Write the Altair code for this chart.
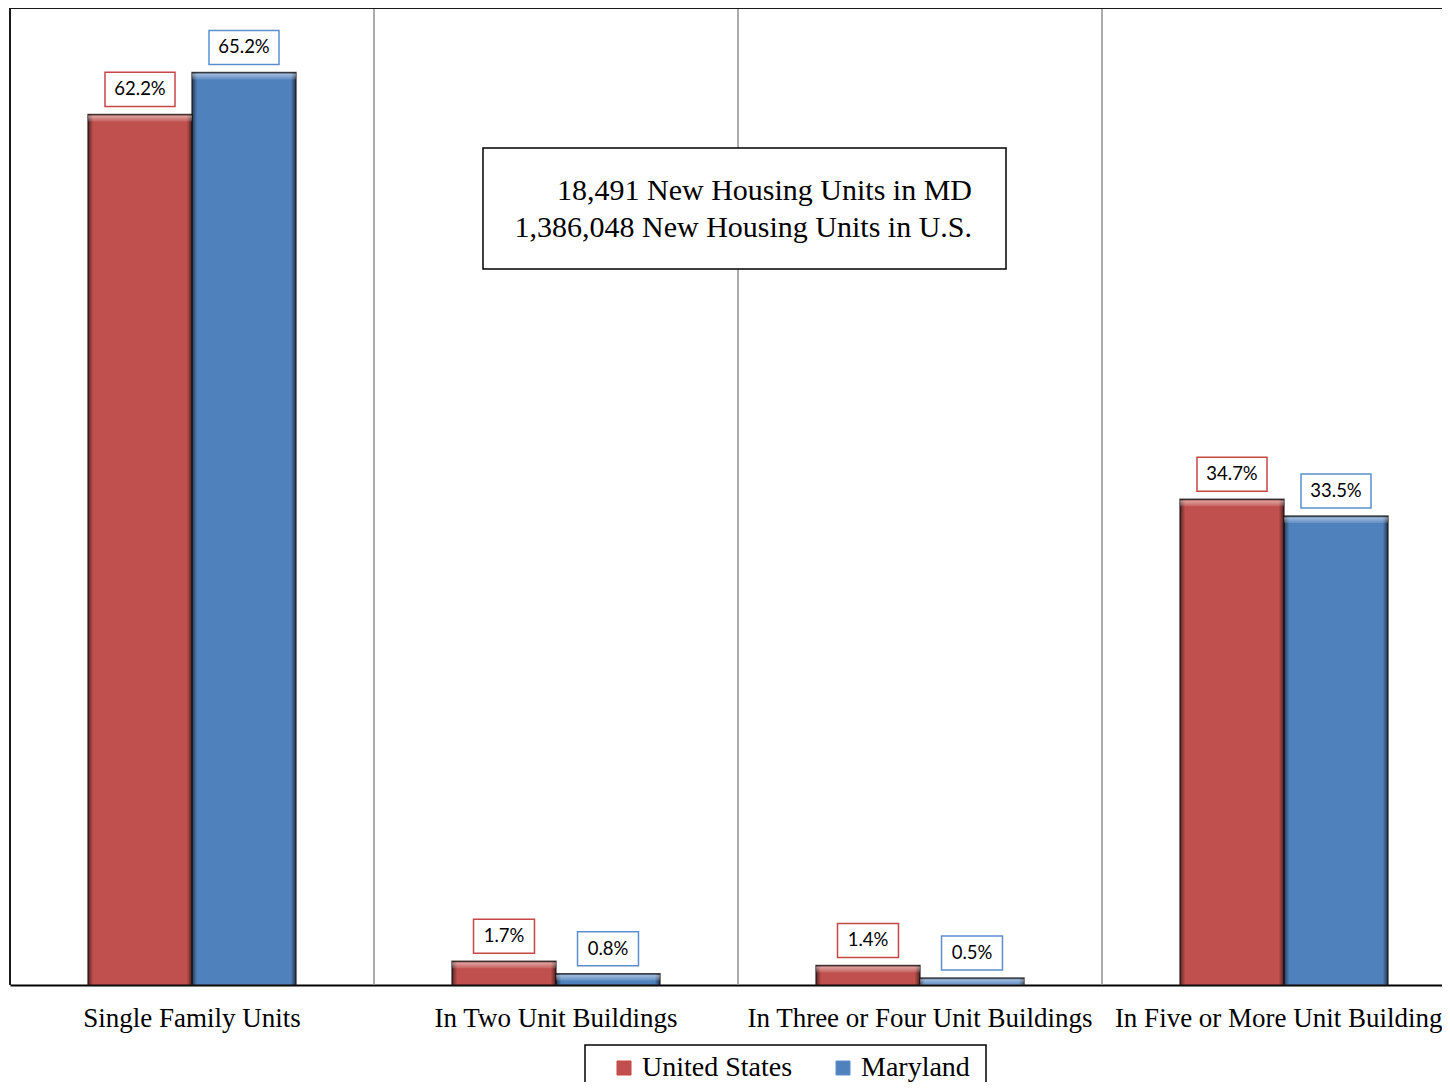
import altair as alt
import pandas as pd

categories = ["Single Family Units", "In Two Unit Buildings",
              "In Three or Four Unit Buildings", "In Five or More Unit Buildings"]
series = ["United States", "Maryland"]
us_values = [62.2, 1.7, 1.4, 34.7]
md_values = [65.2, 0.8, 0.5, 33.5]
note_lines = ["18,491 New Housing Units in MD", "1,386,048 New Housing Units in U.S."]

rows = []
for c, u, m in zip(categories, us_values, md_values):
    rows.append({"cat": c, "series": series[0], "value": u})
    rows.append({"cat": c, "series": series[1], "value": m})
df = pd.DataFrame(rows)
grid_df = pd.DataFrame({"cat": categories[1:]})
note_df = pd.DataFrame({"t": ["\n".join(note_lines)]})
one_df = pd.DataFrame({"k": [0]})

RED = "#C0504D"
BLUE = "#4F81BD"
SERIF = "Liberation Serif"
PLOT_W = 1432
PLOT_H = 977

# the original plot area runs past the right edge of the picture
x_scale = alt.Scale(domain=categories, paddingInner=0, paddingOuter=0, range=[0, 1456])
x_axis = alt.Axis(title=None, labelFont=SERIF, labelFontSize=27, labelColor="black",
                  ticks=False, labelPadding=20, domainColor="black", domainWidth=2,
                  labelAngle=0, labelLimit=500, grid=False)
X = alt.X("cat:N", scale=x_scale, axis=x_axis)
XO = alt.XOffset("series:N", scale=alt.Scale(domain=series, paddingInner=0, paddingOuter=0.75))
Y = alt.Y("value:Q", scale=alt.Scale(domain=[0, 69.8], nice=False, zero=True), axis=None)

base = alt.Chart(df)

grid = alt.Chart(grid_df).mark_rule(color="#8f8f8f", strokeWidth=1.5).encode(
    x=alt.X("cat:N", scale=x_scale, bandPosition=0, axis=x_axis)
)

frame_top = alt.Chart(one_df).mark_rule(color="#1a1a1a", strokeWidth=2).encode(
    x=alt.value(0), x2=alt.value(1456), y=alt.value(0)
)
frame_left = alt.Chart(one_df).mark_rule(color="#1a1a1a", strokeWidth=2).encode(
    x=alt.value(0), y=alt.value(0), y2=alt.value(PLOT_H)
)

bars = base.mark_bar().encode(
    x=X, xOffset=XO, y=Y,
    color=alt.Color("series:N", scale=alt.Scale(domain=series, range=[RED, BLUE]),
                    legend=alt.Legend(title=None, orient="none", legendX=600, legendY=1046,
                                      direction="horizontal", symbolType="square",
                                      symbolSize=196, labelFont=SERIF, labelFontSize=28,
                                      labelColor="black", labelOffset=4, columnPadding=36,
                                      padding=0, labelLimit=400,
                                      symbolStrokeColor="#3a3a3a", symbolStrokeWidth=1))
)

edges = base.mark_bar(
    fill=alt.LinearGradient(gradient="linear", x1=0, x2=1, y1=0, y2=0, stops=[
        alt.GradientStop(offset=0, color="rgba(0,0,0,0.55)"),
        alt.GradientStop(offset=0.05, color="rgba(0,0,0,0)"),
        alt.GradientStop(offset=0.95, color="rgba(0,0,0,0)"),
        alt.GradientStop(offset=1, color="rgba(0,0,0,0.6)"),
    ]),
    stroke="rgba(30,20,20,0.75)", strokeWidth=1.5
).encode(x=X, xOffset=XO, y=Y)

bevel = base.mark_bar(
    y2Offset=7,
    fill=alt.LinearGradient(gradient="linear", x1=0, x2=0, y1=0, y2=1, stops=[
        alt.GradientStop(offset=0, color="rgba(0,0,0,0.35)"),
        alt.GradientStop(offset=0.25, color="rgba(255,255,255,0.45)"),
        alt.GradientStop(offset=1, color="rgba(255,255,255,0.1)"),
    ])
).encode(x=X, xOffset=XO, y=Y, y2=alt.Y2("value:Q"))

long_box = "M-1,-0.486H1V0.486H-1Z"
short_box = "M-0.871,-0.486H0.871V0.486H-0.871Z"
boxes = base.mark_point(filled=True, fill="white", strokeWidth=1.5, opacity=1,
                        yOffset=-25, size=4900).encode(
    x=X, xOffset=XO, y=Y,
    stroke=alt.Stroke("series:N", scale=alt.Scale(domain=series, range=["#C84646", "#5A8ED0"]),
                      legend=None),
    shape=alt.condition("datum.value >= 10", alt.value(long_box), alt.value(short_box)),
)

labels = base.transform_calculate(
    lab="format(datum.value, '.1f') + '%'"
).mark_text(font="Lato", fontSize=18.5, color="black", dy=-25, baseline="middle").encode(
    x=X, xOffset=XO, y=Y, text="lab:N"
)

note_box = alt.Chart(note_df).mark_rect(fill="white", stroke="black", strokeWidth=1.5).encode(
    x=alt.value(473), x2=alt.value(996), y=alt.value(140), y2=alt.value(261)
)
note_text = alt.Chart(note_df).mark_text(font=SERIF, fontSize=30, align="right",
                                         baseline="middle", lineBreak="\n", lineHeight=37,
                                         color="black").encode(
    x=alt.value(962), y=alt.value(183), text="t:N"
)

legend_box = alt.Chart(one_df).mark_rect(fill="white", stroke="black", strokeWidth=1.5).encode(
    x=alt.value(575), x2=alt.value(976), y=alt.value(1037), y2=alt.value(1110)
)

chart = alt.layer(grid, frame_top, frame_left, bars, edges, bevel, boxes, labels,
                  note_box, note_text, legend_box).properties(
    width=PLOT_W, height=PLOT_H,
    padding={"left": 2, "top": 0, "right": 0, "bottom": 97},
    autosize=alt.AutoSizeParams(type="none")
).configure_view(stroke=None)

chart.save("out.html", embed_options={"renderer": "svg", "actions": False})
